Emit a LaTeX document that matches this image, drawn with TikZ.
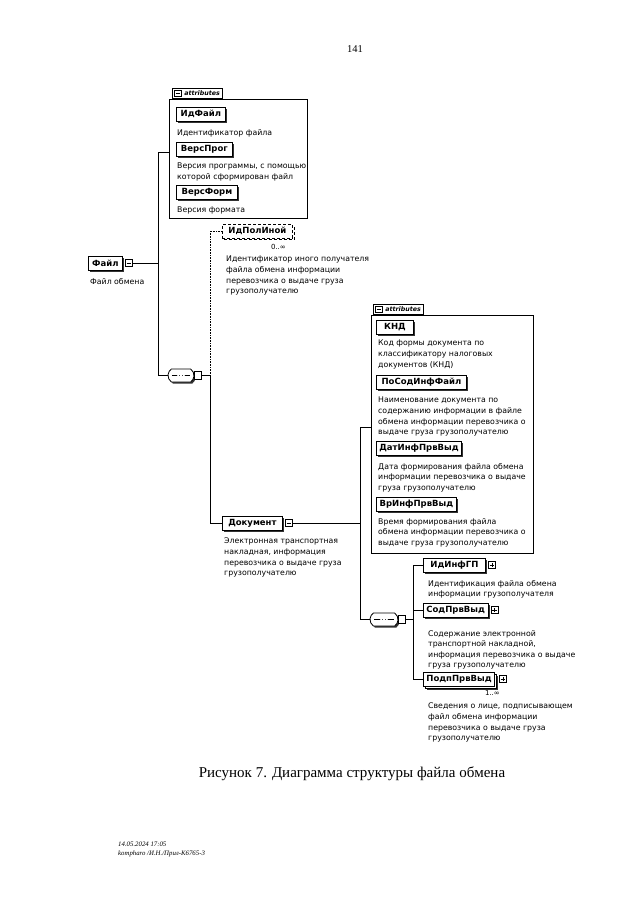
\documentclass[tikz,border=0pt]{standalone}
\usepackage{fontspec}
\setmainfont{Liberation Serif}
\setsansfont{DejaVu Sans}
\usetikzlibrary{positioning, calc, shapes.misc, shadows}

\tikzset{
  conn/.style={line width=0.6pt},
  optconn/.style={line width=0.6pt, densely dotted},
  boxbase/.style={draw, line width=0.8pt, fill=white, anchor=north west,
    font=\sffamily\bfseries\fontsize{8.5}{9}\selectfont,
    inner xsep=3pt, inner ysep=0pt, minimum height=13.5pt},
  elembox/.style={boxbase,
    drop shadow={shadow xshift=1.8pt, shadow yshift=-1.8pt, fill=black!80, opacity=1}},
  optbox/.style={boxbase, densely dashed,
    drop shadow={shadow xshift=1.8pt, shadow yshift=-1.8pt, fill=white, draw=black, densely dashed, line width=1.3pt, opacity=1}},
  multibox/.style={boxbase,
    drop shadow={shadow xshift=3.6pt, shadow yshift=-3.6pt, fill=black!80, opacity=1},
    copy shadow={shadow xshift=2pt, shadow yshift=-2pt}},
  desc/.style={anchor=north west, inner sep=0pt, align=left,
    font=\sffamily\fontsize{7.8}{10.6}\selectfont},
  occlbl/.style={inner sep=0pt, font=\sffamily\fontsize{7}{8}\selectfont},
  expbox/.style={draw, line width=0.6pt, fill=white, minimum size=7pt, inner sep=0pt},
  expminus/.style={expbox, path picture={
    \draw[line width=0.6pt] ([xshift=1.3pt]path picture bounding box.west) -- ([xshift=-1.3pt]path picture bounding box.east);}},
  expplus/.style={expbox, path picture={
    \draw[line width=0.6pt] ([xshift=1.3pt]path picture bounding box.west) -- ([xshift=-1.3pt]path picture bounding box.east)
      ([yshift=-1.3pt]path picture bounding box.north) -- ([yshift=1.3pt]path picture bounding box.south);}},
  seqbox/.style={rounded rectangle, rounded rectangle arc length=110, draw, line width=0.8pt, fill=white,
    minimum width=26pt, minimum height=13pt, inner sep=0pt,
    drop shadow={shadow xshift=1.6pt, shadow yshift=-1.6pt, fill=black!80, opacity=1},
    path picture={
      \draw[line width=0.6pt] ([xshift=4pt]path picture bounding box.west) -- ([xshift=-4pt]path picture bounding box.east);
      \foreach \dx in {-2.8,0,2.8} \fill ([xshift=\dx pt]path picture bounding box.center) circle (1.1pt);}},
  seqport/.style={draw, line width=0.6pt, fill=white, minimum width=6.5pt, minimum height=8.5pt, inner sep=0pt},
  attrgrp/.style={draw, line width=0.7pt, anchor=north west, inner sep=0pt},
  attrtab/.style={draw, line width=0.7pt, fill=white, inner xsep=2.5pt, inner ysep=2.8pt,
    font=\sffamily\bfseries\itshape\fontsize{6.3}{7}\selectfont}
}

\begin{document}
\begin{tikzpicture}[x=1pt, y=-1pt]
\useasboundingbox (0,0) rectangle (640,905);

%numero di pagina
\node[font=\fontsize{10.5}{12}\selectfont] (pagenum) at (355,49) {141};

%attributi del file
\node[attrgrp, minimum width=138pt, minimum height=119pt] (grp1) at (169,99) {};
\node[attrtab, above right=0pt and 3pt of grp1.north west] (tab1) {\hspace{9.5pt}attributes};
\node[expminus, minimum size=6.5pt, right=2pt of tab1.west] (tab1m) {};
\node[elembox, minimum width=49pt] (idfile) at (176,107) {ИдФайл};
\node[desc] (idfiledesc) at (177,129) {Идентификатор файла};
\node[elembox, minimum width=56pt] (versprog) at (176,142) {ВерсПрог};
\node[desc] (versprogdesc) at (177,163) {Версия программы, с помощью\\которой сформирован файл};
\node[elembox, minimum width=61pt] (versform) at (176,185) {ВерсФорм};
\node[desc] (versformdesc) at (177,207) {Версия формата};

%elemento radice
\node[elembox, minimum width=34pt] (file) at (88,256) {Файл};
\node[expminus, right=2.2pt of file.east] (filem) {};
\node[desc] (filedesc) at (90,278) {Файл обмена};

%prima sequenza
\node[seqbox] (seq1) at (181,375.5) {};
\node[seqport, right=0pt of seq1] (seq1port) {};

\node[optbox, minimum width=70pt] (optrcv) at (222,224) {ИдПолИной};
\node[occlbl, anchor=north east] (optrcvocc) at (286,244) {0..∞};
\node[desc] (optrcvdesc) at (226,256) {Идентификатор иного получателя\\файла обмена информации\\перевозчика о выдаче груза\\грузополучателю};

\node[elembox, minimum width=60pt] (doc) at (222,516) {Документ};
\node[expminus, right=2.2pt of doc.east] (docm) {};
\node[desc] (docdesc) at (224,538) {Электронная транспортная\\накладная, информация\\перевозчика о выдаче груза\\грузополучателю};

%attributi del documento
\node[attrgrp, minimum width=162pt, minimum height=238pt] (grp2) at (371,315) {};
\node[attrtab, above right=0pt and 2pt of grp2.north west] (tab2) {\hspace{9.5pt}attributes};
\node[expminus, minimum size=6.5pt, right=2pt of tab2.west] (tab2m) {};
\node[elembox, minimum width=37pt] (knd) at (376,320) {КНД};
\node[desc] (knddesc) at (378,340) {Код формы документа по\\классификатору налоговых\\документов (КНД)};
\node[elembox, minimum width=90pt] (posod) at (376,375) {ПоСодИнфФайл};
\node[desc] (posoddesc) at (378,397) {Наименование документа по\\содержанию информации в файле\\обмена информации перевозчика о\\выдаче груза грузополучателю};
\node[elembox, minimum width=85pt] (datinf) at (376,441) {ДатИнфПрвВыд};
\node[desc] (datinfdesc) at (378,463) {Дата формирования файла обмена\\информации перевозчика о выдаче\\груза грузополучателю};
\node[elembox, minimum width=80pt] (vrinf) at (376,497) {ВрИнфПрвВыд};
\node[desc] (vrinfdesc) at (378,518) {Время формирования файла\\обмена информации перевозчика о\\выдаче груза грузополучателю};

%seconda sequenza
\node[seqbox, minimum width=28pt] (seq2) at (384,619.5) {};
\node[seqport, right=0pt of seq2] (seq2port) {};

\node[elembox, minimum width=62pt] (idgp) at (423,558) {ИдИнфГП};
\node[expplus, right=2.2pt of idgp.east] (idgpp) {};
\node[desc] (idgpdesc) at (428,580) {Идентификация файла обмена\\информации грузополучателя};
\node[elembox, minimum width=64pt] (sod) at (423,603) {СодПрвВыд};
\node[expplus, right=2.2pt of sod.east] (sodp) {};
\node[desc] (soddesc) at (428,630) {Содержание электронной\\транспортной накладной,\\информация перевозчика о выдаче\\груза грузополучателю};
\node[multibox, minimum width=67pt] (podp) at (423,672) {ПодпПрвВыд};
\node[expplus, right=4pt of podp.east] (podpp) {};
\node[occlbl, anchor=north east] (podpocc) at (500,690) {1..∞};
\node[desc] (podpdesc) at (428,703) {Сведения о лице, подписывающем\\файл обмена информации\\перевозчика о выдаче груза\\грузополучателю};

%collegamenti
\coordinate (spine1top) at (158,152);
\coordinate (spine1bot) at (158,375.5);
\coordinate (spine2mid) at (210,375.5);
\coordinate (spine3top) at (360,427);
\coordinate (spine3bot) at (360,619.5);
\coordinate (spine4mid) at (413,619.5);
\draw[conn] (grp1.west |- spine1top) -- (spine1top) -- (spine1bot) -- (seq1.west);
\draw[conn] (filem.east) -- (filem.east -| spine1top);
\draw[conn] (seq1port.east) -- (spine2mid);
\draw[optconn] (spine2mid) -- (spine2mid |- optrcv.west) -- (optrcv.west);
\draw[conn] (spine2mid) -- (spine2mid |- doc.west) -- (doc.west);
\draw[conn] (docm.east) -- (docm.east -| spine3top);
\draw[conn] (grp2.west |- spine3top) -- (spine3top) -- (spine3bot) -- (seq2.west);
\draw[conn] (seq2port.east) -- (spine4mid);
\draw[conn] (idgp.west) -- (idgp.west -| spine4mid) -- (podp.west -| spine4mid) -- (podp.west);
\draw[conn] (sod.west -| spine4mid) -- (sod.west);

%didascalia
\node[font=\fontsize{15}{17}\selectfont] (caption) at (352,774) {Рисунок 7. Диаграмма структуры файла обмена};
\node[anchor=north west, inner sep=0pt, align=left, font=\itshape\fontsize{6.8}{8.5}\selectfont] (footer) at (118,842) {14.05.2024 17:05\\kompharo /И.Н./Прил-К6765-3};
\end{tikzpicture}
\end{document}
